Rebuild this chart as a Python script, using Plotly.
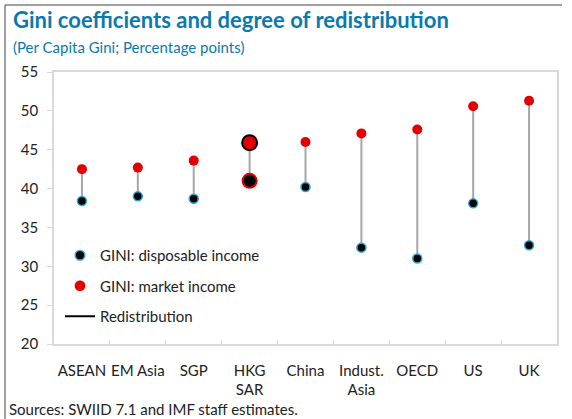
import plotly.graph_objects as go

categories = ["ASEAN", "EM Asia", "SGP", "HKG<br>SAR", "China", "Indust.<br>Asia", "OECD", "US", "UK"]
gini_disposable = [38.4, 39.0, 38.7, 41.0, 40.2, 32.4, 31.0, 38.1, 32.7]
gini_market = [42.5, 42.7, 43.6, 45.9, 46.0, 47.1, 47.6, 50.6, 51.3]
highlight = "HKG<br>SAR"
y_ticks = [20, 25, 30, 35, 40, 45, 50, 55]

W, H = 572, 419
L, R, T, B = 54, 15, 72, 75
pw, ph = W - L - R, H - T - B


def px_x(p):
    return (p - L) / pw


def px_y(p):
    return (H - B - p) / ph


FONT = "Segoe UI, Lato, Noto Sans, sans-serif"
TITLE_COLOR = "#0a7aad"
RED = "#e40000"
BLUE = "#2aa6d4"

# connecting lines (redistribution)
lx, ly = [], []
for c, d, m in zip(categories, gini_disposable, gini_market):
    lx += [c, c, None]
    ly += [d, m, None]

is_hl = [c == highlight for c in categories]

fig = go.Figure()
fig.add_trace(go.Scatter(
    x=lx, y=ly, mode="lines", line=dict(color="#a6a6a6", width=2),
    showlegend=False, hoverinfo="skip"))
fig.add_trace(go.Scatter(
    x=categories, y=gini_disposable, mode="markers", name="GINI: disposable income",
    legendgroup="a",
    marker=dict(color="black", opacity=1,
                size=[14 if h else 9 for h in is_hl],
                line=dict(color=[RED if h else BLUE for h in is_hl], width=[2 if h else 1.5 for h in is_hl]))))
fig.add_trace(go.Scatter(
    x=categories, y=gini_market, mode="markers", name="GINI: market income",
    legendgroup="b",
    marker=dict(color=RED, opacity=1,
                size=[15 if h else 10 for h in is_hl],
                line=dict(color=["black" if h else RED for h in is_hl], width=[2 if h else 0 for h in is_hl]))))
fig.add_trace(go.Scatter(
    x=[None], y=[None], mode="lines", name="Redistribution", legendgroup="c",
    line=dict(color="black", width=2)))

fig.update_layout(
    width=W, height=H,
    margin=dict(l=L, r=R, t=T, b=B, autoexpand=False),
    paper_bgcolor="white", plot_bgcolor="white",
    font=dict(family=FONT, size=15, color="#222222"),
    showlegend=True,
    legend=dict(x=px_x(60), y=px_y(239), xanchor="left", yanchor="top",
                bgcolor="rgba(0,0,0,0)", traceorder="grouped", tracegroupgap=8,
                font=dict(size=15, color="#222222"), itemwidth=30),
    xaxis=dict(categoryorder="array", categoryarray=categories,
               range=[-0.5, len(categories) - 0.5], tickangle=0, automargin=False,
               showline=True, linecolor="#d9d9d9", linewidth=1.5, mirror=True,
               ticks="inside", tickson="boundaries", ticklen=4, tickcolor="#d9d9d9",
               showgrid=False, zeroline=False, ticklabelstandoff=12,
               tickfont=dict(size=15, color="#222222")),
    yaxis=dict(range=[20, 55], tickvals=y_ticks, automargin=False,
               showline=True, linecolor="#d9d9d9", linewidth=1.5, mirror=True,
               ticks="outside", ticklen=5, tickcolor="#d9d9d9",
               showgrid=False, zeroline=False, ticklabelstandoff=6,
               tickfont=dict(size=15, color="#222222")),
    annotations=[
        dict(text="<b>Gini coefficients and degree of redistribution</b>",
             xref="paper", yref="paper", x=px_x(11), y=px_y(19),
             xanchor="left", yanchor="middle", showarrow=False,
             font=dict(size=22, color=TITLE_COLOR, family=FONT)),
        dict(text="(Per Capita Gini; Percentage points)",
             xref="paper", yref="paper", x=px_x(11), y=px_y(47),
             xanchor="left", yanchor="middle", showarrow=False,
             font=dict(size=15, color=TITLE_COLOR, family=FONT)),
        dict(text="Sources: SWIID 7.1 and IMF staff estimates.",
             xref="paper", yref="paper", x=px_x(7), y=px_y(409),
             xanchor="left", yanchor="middle", showarrow=False,
             font=dict(size=15, color="#222222", family=FONT)),
    ],
    shapes=[
        dict(type="line", xref="paper", yref="paper",
             x0=px_x(5), y0=px_y(5), x1=px_x(562), y1=px_y(5),
             line=dict(color="#808080", width=1.5)),
        dict(type="line", xref="paper", yref="paper",
             x0=px_x(5), y0=px_y(5), x1=px_x(5), y1=px_y(425),
             line=dict(color="#808080", width=1.5)),
    ],
)

fig.write_html("out.html", config={"displayModeBar": False},
               post_script="document.body.style.margin='0';document.body.style.overflow='hidden';")
